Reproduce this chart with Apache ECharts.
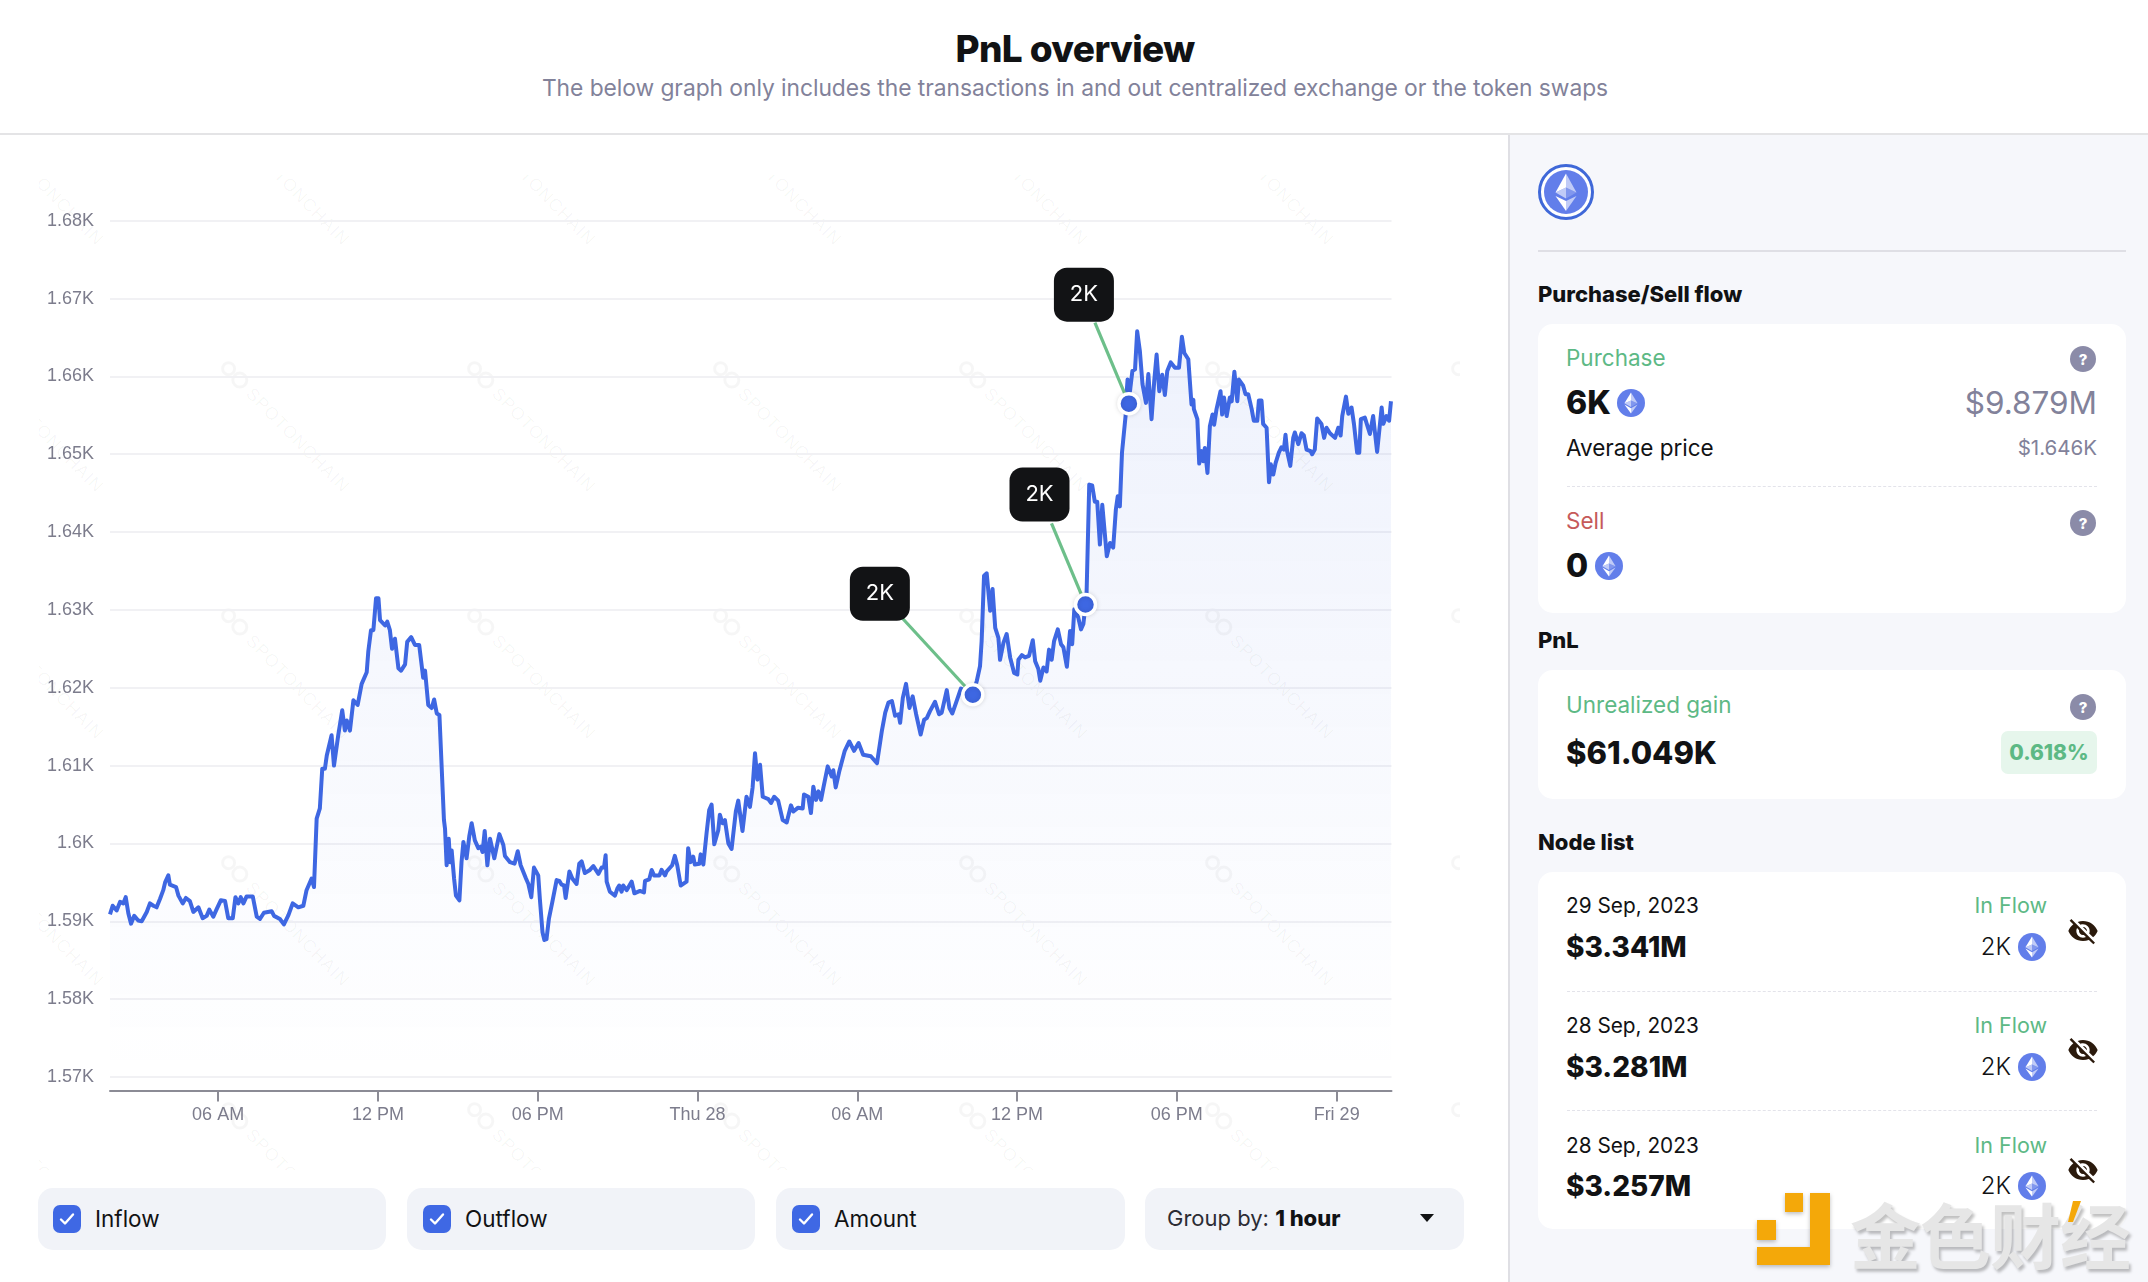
<!DOCTYPE html>
<html><head><meta charset="utf-8">
<script src="https://cdn.jsdelivr.net/npm/echarts@6/dist/echarts.min.js"></script>
<style>
html,body{margin:0;padding:0;width:2148px;height:1282px;overflow:hidden;background:#fff;font-family:Inter,"Open Sans",sans-serif;color:#111214}
.t{position:absolute;white-space:nowrap;transform:translateY(-50%);line-height:1}
.r{transform:translate(-100%,-50%)}
.c{transform:translate(-50%,-50%)}
.box{position:absolute}
.b{font-weight:800}
.grey{color:#82829a}
.green{color:#5db985}
.cb{position:absolute;width:28px;height:28px;border-radius:7px;background:#3f68e4;top:1205px}
.cb svg{position:absolute;left:0;top:0}
.ctl{position:absolute;top:1188px;height:62px;background:#f1f3f8;border-radius:15px}
.dash{position:absolute;height:0;border-top:1px dashed #e3e3ea}
svg.i{position:absolute}
#chart{position:absolute;left:0;top:0;width:1500px;height:1180px}
</style></head><body>
<svg width="0" height="0" style="position:absolute"><defs>
<symbol id="eth" viewBox="0 0 32 32"><circle cx="16" cy="16" r="16" fill="#627eea"/><path d="M16 4v9l7.5 3.4z" fill="#fff" fill-opacity=".6"/><path d="M16 4L8.5 16.4 16 13z" fill="#fff"/><path d="M16 22v6l7.5-10.4z" fill="#fff" fill-opacity=".6"/><path d="M16 28v-6l-7.5-4.4z" fill="#fff"/><path d="M16 20.6l7.5-4.2L16 13z" fill="#fff" fill-opacity=".2"/><path d="M8.5 16.4l7.5 4.2V13z" fill="#fff" fill-opacity=".6"/></symbol>
<symbol id="help" viewBox="0 0 26 26"><circle cx="13" cy="13" r="13" fill="#8b8ba8"/><text x="13" y="18.5" text-anchor="middle" font-family="Inter" font-weight="800" font-size="15" fill="#fff">?</text></symbol>
<symbol id="eye" viewBox="0 0 24 24"><path fill="#2b1a0c" d="M12 7c2.76 0 5 2.24 5 5 0 .65-.13 1.26-.36 1.83l2.92 2.92c1.51-1.26 2.7-2.89 3.43-4.75-1.73-4.39-6-7.5-11-7.5-1.4 0-2.74.25-3.98.7l2.16 2.16C10.74 7.13 11.35 7 12 7zM2 4.27l2.28 2.28.46.46C3.08 8.3 1.78 10.02 1 12c1.73 4.39 6 7.5 11 7.5 1.55 0 3.03-.3 4.38-.84l.42.42L19.73 22 21 20.73 3.27 3 2 4.27zM7.53 9.8l1.55 1.55c-.05.21-.08.43-.08.65 0 1.66 1.34 3 3 3 .22 0 .44-.03.65-.08l1.55 1.55c-.67.33-1.41.53-2.2.53-2.76 0-5-2.24-5-5 0-.79.2-1.53.53-2.2zm4.31-.78l3.15 3.15.02-.16c0-1.66-1.34-3-3-3l-.17.01z"/></symbol>
<symbol id="chk" viewBox="0 0 28 28"><path d="M8 14.5l4 4 8-9" stroke="#fff" stroke-width="2.4" fill="none" stroke-linecap="round" stroke-linejoin="round"/></symbol>
</defs></svg>

<!-- header -->
<div class="t c b" style="left:1075px;top:48px;font-size:37px;letter-spacing:-.6px;">PnL overview</div>
<div class="t c grey" style="left:1075px;top:88px;font-size:22.8px;font-weight:400;letter-spacing:-.05px">The below graph only includes the transactions in and out centralized exchange or the token swaps</div>
<div class="box" style="left:0;top:133px;width:2148px;height:2px;background:#e4e4e6"></div>

<!-- watermark -->
<svg id="wm" class="i" style="left:0;top:0" width="1500" height="1282"></svg>

<!-- right panel -->
<div class="box" style="left:1508px;top:135px;width:640px;height:1147px;background:#f6f7fb;border-left:2px solid #dfdfe4;box-sizing:border-box"></div>
<svg class="i" style="left:1538px;top:164px" width="56" height="56" viewBox="0 0 56 56"><circle cx="28" cy="28" r="26.5" fill="#fff" stroke="#3f68d8" stroke-width="3"/><circle cx="28" cy="28" r="22" fill="#627eea"/><path d="M28 9.500v14l10.500 5z" fill="#fff" fill-opacity=".6"/><path d="M28 9.500L17.500 28.500 28 23.500z" fill="#fff"/><path d="M28 37v10l10.500-15z" fill="#fff" fill-opacity=".6"/><path d="M28 47V37l-10.500-5z" fill="#fff"/><path d="M28 34.500l10.500-6L28 23.500z" fill="#fff" fill-opacity=".2"/><path d="M17.500 28.500l10.500 6v-11z" fill="#fff" fill-opacity=".6"/></svg>
<div class="box" style="left:1538px;top:250px;width:588px;height:2px;background:#dfdfe5"></div>
<div class="t b" style="left:1538px;top:294px;font-size:22px">Purchase/Sell flow</div>

<div class="box" style="left:1538px;top:324px;width:588px;height:289px;background:#fff;border-radius:15px"></div>
<div class="t green" style="left:1566px;top:358px;font-size:22.5px">Purchase</div>
<svg class="i" style="left:2070px;top:346px" width="26" height="26"><use href="#help"/></svg>
<div class="t b" style="left:1566px;top:403px;font-size:32px">6K</div>
<svg class="i" style="left:1617px;top:389px" width="28" height="28"><use href="#eth"/></svg>
<div class="t r grey" style="left:2097px;top:403px;font-size:31.5px">$9.879M</div>
<div class="t" style="left:1566px;top:448px;font-size:22.5px">Average price</div>
<div class="t r grey" style="left:2097px;top:448px;font-size:20.5px">$1.646K</div>
<div class="dash" style="left:1567px;top:486px;width:530px"></div>
<div class="t" style="left:1566px;top:521px;font-size:22.5px;color:#c65a5a">Sell</div>
<svg class="i" style="left:2070px;top:510px" width="26" height="26"><use href="#help"/></svg>
<div class="t b" style="left:1566px;top:566px;font-size:32px">0</div>
<svg class="i" style="left:1595px;top:552px" width="28" height="28"><use href="#eth"/></svg>

<div class="t b" style="left:1538px;top:640px;font-size:22px">PnL</div>
<div class="box" style="left:1538px;top:670px;width:588px;height:129px;background:#fff;border-radius:15px"></div>
<div class="t green" style="left:1566px;top:705px;font-size:22.5px">Unrealized gain</div>
<svg class="i" style="left:2070px;top:694px" width="26" height="26"><use href="#help"/></svg>
<div class="t b" style="left:1566px;top:752px;font-size:31px">$61.049K</div>
<div class="box" style="left:2001px;top:731px;width:96px;height:43px;background:#e6f6ec;border-radius:7px"></div>
<div class="t c b green" style="left:2049px;top:752px;font-size:21px">0.618%</div>

<div class="t b" style="left:1538px;top:842px;font-size:22px">Node list</div>
<div class="box" style="left:1538px;top:872px;width:588px;height:357px;background:#fff;border-radius:15px"></div>
<div id="rows"></div>

<!-- controls -->
<div class="ctl" style="left:38px;width:348px"></div>
<div class="cb" style="left:53px"><svg width="28" height="28"><use href="#chk"/></svg></div>
<div class="t" style="left:95px;top:1219px;font-size:22.5px">Inflow</div>
<div class="ctl" style="left:407px;width:348px"></div>
<div class="cb" style="left:423px"><svg width="28" height="28"><use href="#chk"/></svg></div>
<div class="t" style="left:465px;top:1219px;font-size:22.5px">Outflow</div>
<div class="ctl" style="left:776px;width:349px"></div>
<div class="cb" style="left:792px"><svg width="28" height="28"><use href="#chk"/></svg></div>
<div class="t" style="left:834px;top:1219px;font-size:22.5px">Amount</div>
<div class="ctl" style="left:1145px;width:319px"></div>
<div class="t" style="left:1167px;top:1218px;font-size:22px;color:#2c2c34">Group by: <span class="b" style="color:#111214">1 hour</span></div>
<svg class="i" style="left:1420px;top:1214px" width="14" height="9"><path d="M0 0h14L7 8z" fill="#111214"/></svg>

<div id="chart"></div>

<!-- publisher mark -->
<svg class="i" style="left:1750px;top:1188px;filter:drop-shadow(0 2px 2px rgba(0,0,0,.25))" width="90" height="84"><path fill="#f4a809" d="M60 5h20v72H7V59h53zM35 5h18v19H35zM7 32h19v20H7z"/></svg>
<div class="t" style="left:1850px;top:1232px;font-family:'Noto Sans CJK SC';font-weight:700;font-size:71px;color:#e6e6e6;text-shadow:2px 3px 3px rgba(0,0,0,.25);letter-spacing:-1px">金色财经</div>
<svg class="i" style="left:2064px;top:1200px" width="20" height="26"><path d="M9 1h8l-8 21H4z" fill="#f4a809"/></svg>

<script>
const hours = [0,.10,.25,.38,.50,.59,.69,.79,.91,1.06,1.19,1.38,1.50,1.63,1.75,1.88,2.00,2.07,2.19,2.25,2.48,2.57,2.73,2.85,3.00,3.13,3.32,3.48,3.63,3.73,3.88,4.01,4.16,4.32,4.44,4.61,4.71,4.82,4.91,5.01,5.13,5.36,5.51,5.63,5.78,6.07,6.16,6.38,6.53,6.70,6.86,7.07,7.26,7.38,7.57,7.66,7.76,7.88,7.97,8.07,8.14,8.32,8.41,8.57,8.72,8.82,8.89,9.01,9.14,9.30,9.45,9.64,9.70,9.80,9.89,9.99,10.08,10.14,10.33,10.41,10.51,10.59,10.70,10.83,10.93,11.08,11.16,11.31,11.45,11.61,11.76,11.83,11.95,12.08,12.17,12.27,12.37,12.54,12.58,12.64,
12.72,12.77,12.83,12.92,12.99,13.12,13.20,13.27,13.39,13.49,13.58,13.70,13.83,13.92,13.99,14.07,14.17,14.27,14.33,14.43,14.62,14.77,14.83,15.02,15.19,15.31,15.42,15.49,15.62,15.71,15.82,15.92,16.08,16.14,16.24,16.31,16.39,16.48,16.61,16.77,16.87,16.96,17.05,17.11,17.25,17.36,17.52,17.62,17.71,17.83,18.02,18.15,18.34,18.46,18.55,18.61,18.65,18.77,18.96,19.05,19.12,19.21,19.27,19.40,19.59,19.69,19.90,20.05,20.09,20.25,20.34,20.43,20.63,20.71,20.84,20.90,21.11,21.21,21.30,21.43,21.65,21.71,21.80,21.90,21.96,22.13,22.18,22.28,22.40,22.50,22.59,22.69,22.84,22.90,23.00,23.09,23.22,23.34,23.40,23.50,23.59,23.75,23.90,24.03,24.13,24.22,24.31,24.41,24.51,24.72,24.82,24.94,25.09,25.26,25.41,25.57,25.66,25.84,26.01,26.06,26.22,26.32,26.41,26.51,26.60,26.70,26.79,26.95,27.10,27.16,27.25,27.38,
27.59,27.76,27.94,28.11,28.28,28.57,28.80,28.98,29.11,29.23,29.36,29.48,29.61,29.67,29.77,29.89,30.02,30.14,30.27,30.44,30.57,30.67,30.79,30.98,31.13,31.23,31.42,31.52,31.63,31.77,31.95,32.40,32.55,32.67,32.73,32.82,32.92,33.05,33.14,33.24,33.36,33.42,33.55,33.67,33.80,33.95,34.07,34.11,34.24,34.36,34.51,34.65,34.74,34.86,34.93,35.05,35.17,35.26,35.36,35.45,35.59,35.71,35.80,35.93,36.05,36.13,36.21,36.36,36.46,36.55,36.63,
36.67,36.77,36.88,36.98,37.07,37.17,37.26,37.32,37.43,37.55,37.67,37.77,37.84,37.92,38.00,38.07,38.14,38.17,38.21,38.30,38.39,38.49,38.57,38.67,38.77,38.90,38.99,39.11,39.21,39.30,39.40,39.51,39.61,39.70,39.83,39.99,40.14,40.25,40.34,40.49,40.61,40.68,40.70,40.83,40.90,40.99,41.05,41.11,41.21,41.30,41.40,41.46,41.55,41.70,41.76,41.83,41.93,42.05,42.12,42.22,42.33,42.39,
42.55,42.64,42.74,42.87,42.95,43.08,43.14,43.24,43.30,43.43,43.52,43.59,43.68,43.77,43.89,43.99,44.08,44.14,44.20,44.32,44.43,44.49,44.62,44.74,44.83,44.93,45.08,45.14,45.24,45.33,45.49,45.59,45.68,45.81,46.00,46.12,46.21,46.27,46.41,46.50,46.62,46.71,46.83,46.91,46.97,47.12,47.31,47.43,47.58,47.75,47.81,47.93,48.03,48.10];
const prices = [1590.9,1592,1591.4,1592.5,1592.3,1593.1,1591,1589.7,1590.7,1590.1,1590,1591.2,1592.3,1592,1591.8,1592.9,1594,1595,1595.9,1594.7,1594.4,1593.3,1592.3,1593,1592.6,1591.2,1591.8,1590.4,1590.7,1591.5,1590.6,1591.6,1592.7,1592.6,1590.4,1590.4,1593.1,1592.3,1593.1,1592.3,1593.2,1593.2,1590.6,1590.3,1591.1,1591.3,1590.7,1590.3,1589.6,1590.8,1592.3,1591.8,1592,1594,1595.5,1594.4,1603.2,1604.5,1609.6,1609.6,1611.3,1613.9,1610,1613.9,1617.1,1614.5,1615.8,1614.5,1618.4,1617.8,1620.5,1622,1624.7,1627.4,1627.4,1631.5,1631.5,1628.7,1628,1628.5,1627.4,1625,1626.3,1622.5,1622.2,1623,1625.9,1626.5,1625.5,1625.5,1621.3,1622.2,1617.8,1617.4,1618.5,1616.7,1616.5,1603,1601.9,1597.2,
1600.6,1597.6,1599.1,1595.5,1593.3,1592.7,1597.6,1600.2,1598.1,1600.9,1602.6,1600.4,1599.4,1599.6,1598.9,1601.6,1597.2,1600.6,1600.7,1598.1,1601.2,1599.8,1598.4,1597.6,1597.4,1599,1597.2,1597.3,1595.5,1594.8,1593.1,1596.9,1595.9,1592.9,1588.6,1587.6,1587.7,1590.3,1592.5,1595.3,1595.2,1594.7,1594.6,1593,1596.4,1595.5,1594.8,1597.4,1597.7,1596.2,1596.6,1597.1,1596.1,1596.9,1596.9,1598.5,1595.1,1593.8,1593.3,1594.2,1594.6,1593.8,1594.6,1594,1595.1,1593.6,1593.9,1593.7,1595.2,1595.4,1596.6,1595.9,1595.9,1596.6,1595.9,1596.4,1597.2,1598.4,1597.2,1594.6,1595.1,1599.4,1597.6,1598.3,1597.3,1597.4,1598.6,1597.3,1601.3,1604.3,1605,1599.9,1601.7,1603.7,1602.6,1603,1600,1599.3,1599.4,1604.1,1605.5,1601.6,1606,1604.7,1607.2,1611.6,1608.2,1610.1,1606,1605.7,1605.2,1606,1605.5,1603,1602.7,1604.9,1604.1,1604.6,1604.5,1606.3,1606,1603.9,1607.3,1605.6,1606.7,1605.6,1607.2,1609.9,1608.6,1609.4,1607.2,1609.2,
1611.9,1613.1,1611.9,1612.9,1611.4,1611.2,1610.3,1614.4,1616.8,1618.1,1618.3,1616.4,1616.6,1615.5,1618.7,1620.5,1617.4,1618.9,1616.6,1614,1615.9,1616.1,1617,1618.2,1616.6,1616.8,1619.7,1617.4,1616.7,1618.1,1619.9,1619.1,1620.9,1622.8,1626,1634.4,1634.7,1629.9,1632.7,1627.7,1626.4,1623.6,1625.8,1626.9,1623.9,1621.9,1621.7,1623.6,1624.2,1623.9,1624.1,1626.1,1623.4,1622.4,1620.9,1622.6,1622.1,1624.9,1623.6,1626,1627.5,1625.6,1625.2,1622.7,1627.3,1625.6,1630.1,1629,1627.5,1628.2,1630.7,
1632.1,1646.1,1646,1643.9,1643.9,1638.4,1643.5,1643.5,1636.9,1638.6,1638,1642.9,1644.6,1643.3,1650.2,1650.4,1655.1,1657.7,1659.6,1658.1,1660.7,1660.9,1665.8,1663.3,1659,1656.6,1660.3,1654.5,1659.4,1662.8,1658.1,1660.2,1657.6,1660.7,1661.8,1661.1,1661.1,1665.1,1663,1662.2,1656.4,1657,1655.8,1654.5,1648.8,1650.4,1649.1,1650.8,1647.6,1653.6,1655.1,1653.8,1655.8,1658.1,1655.1,1657.3,1654.9,1657.3,1656.8,1660.6,1656.8,1659.6,
1658.8,1657.7,1657.7,1655.8,1654.3,1654.3,1656.9,1656.9,1653.9,1653.4,1646.4,1648.7,1647.4,1648.9,1650.2,1650.9,1650.6,1652.5,1650.4,1648.5,1652.1,1652.8,1651.3,1652.7,1652.4,1650.6,1650.4,1650,1650.6,1654.6,1653.9,1652.1,1653.4,1652.7,1652.1,1653.4,1652.4,1654.9,1657.4,1655.2,1656,1653.9,1650.2,1650.2,1654.5,1654.7,1652.6,1654.9,1650.3,1656,1653.9,1654.9,1654.3,1656.8];
const nodeHours = [32.40, 36.63, 38.26];
const nodePrices = [1619.1, 1630.7, 1656.5];
const nodeAmounts = ["2K", "2K", "2K"];
const tickHours = [4.06,10.06,16.06,22.06,28.06,34.06,40.06,46.06];
const tickLabels = ["06 AM","12 PM","06 PM","Thu 28","06 AM","12 PM","06 PM","Fri 29"];
const nodeDates = ["29 Sep, 2023","28 Sep, 2023","28 Sep, 2023"];
const nodeValues = ["$3.341M","$3.281M","$3.257M"];

const tagOffsets = [[-93,-101],[-46,-110],[-45,-109]];
const connectorOffsets = [[-70,-76],[-34,-81],[-34,-81]];
const nodeData = nodeHours.map((h,i)=>[h,nodePrices[i],nodeAmounts[i]]);

const chart = echarts.init(document.getElementById('chart'), null, {width:1500, height:1180});
chart.setOption({
  animation:false,
  backgroundColor:'transparent',
  grid:{left:110, top:220.7, width:1281.5, height:856.3, containLabel:false},
  xAxis:{
    type:'value', min:0, max:48.12, offset:13.5,
    axisLine:{show:true, onZero:false, lineStyle:{color:'#8b8b95', width:2}},
    axisTick:{show:true, length:11, customValues:tickHours, lineStyle:{color:'#8b8b95', width:2}},
    splitLine:{show:false},
    axisLabel:{show:true, customValues:tickHours, margin:15.5, color:'#7c7c8c', fontSize:18, fontFamily:'Liberation Sans',
      formatter:(v)=>tickLabels[tickHours.indexOf(+v)] ?? ''}
  },
  yAxis:{
    type:'value', min:1570, max:1680, interval:10,
    axisLine:{show:false}, axisTick:{show:false},
    splitLine:{show:true, lineStyle:{color:'#f1f1f4', width:2}},
    axisLabel:{margin:16, color:'#7c7c8c', fontSize:18, fontFamily:'Liberation Sans', formatter:v=>(v/1000)+'K'}
  },
  series:[
    {type:'line', data:hours.map((h,i)=>[h,prices[i]]), showSymbol:false, symbol:'none', smooth:false,
     lineStyle:{color:'#3e67e2', width:4, join:'round'},
     areaStyle:{color:new echarts.graphic.LinearGradient(0,0,0,1,[{offset:0,color:'rgba(62,103,226,.125)'},{offset:1,color:'rgba(62,103,226,0)'}])},
     z:2},
    {type:'custom', data:nodeData, z:4, silent:true, clip:false,
     renderItem:(params,api)=>{
       const p=api.coord([api.value(0),api.value(1)]), o=connectorOffsets[params.dataIndex];
       return {type:'line', shape:{x1:p[0]+o[0],y1:p[1]+o[1],x2:p[0],y2:p[1]}, style:{stroke:'#6dbf8a',lineWidth:3.2,fill:null}};
     }},
    {type:'scatter', data:nodeData, symbolSize:20, z:5,
     itemStyle:{opacity:1, color:'#3e67e2', borderColor:'#fff', borderWidth:3.5, shadowBlur:5, shadowColor:'rgba(0,0,0,.12)'},
     label:{show:true, opacity:1, position:'inside', formatter:p=>p.value[2], color:'#fff', fontFamily:'Inter', fontSize:22,
       backgroundColor:'#121315', borderRadius:13, width:60, height:54, lineHeight:54, align:'center', verticalAlign:'middle'},
     labelLayout:p=>({dx:tagOffsets[p.dataIndex][0], dy:tagOffsets[p.dataIndex][1]})}
  ]
});

// decorative watermark tiles behind the plot
const wm=document.getElementById('wm');
let mk='<defs><clipPath id="wc"><rect x="39" y="175" width="1421" height="995"/></clipPath></defs><g clip-path="url(#wc)">';
for(const y of [116,363,610,857,1104]) for(const x of [-23,223,469,715,961,1207,1453]){
  mk+=`<g transform="translate(${x},${y}) rotate(45.5)" fill="none" stroke="#000" stroke-opacity=".035" stroke-width="3"><circle cx="8" cy="0" r="6"/><circle cx="24" cy="0" r="7"/><text x="38" y="6.500" font-family="Liberation Sans" font-size="17.500" letter-spacing="1" fill="#000" fill-opacity=".04" stroke="none">SPOTONCHAIN</text></g>`;
}
wm.innerHTML=mk+'</g>';

// node list rows
const rowY=[[906,947,931],[1026,1067,1050],[1146,1186,1170]];
let html='';
nodeDates.forEach((d,i)=>{
  const [a,b,e]=rowY[i];
  html+=`<div class="t" style="left:1566px;top:${a}px;font-size:20.8px">${d}</div>
  <div class="t b" style="left:1566px;top:${b}px;font-size:28px">${nodeValues[i]}</div>
  <div class="t r green" style="left:2047px;top:${a}px;font-size:21.5px">In Flow</div>
  <div class="t r" style="left:2011px;top:${b}px;font-size:24px;font-weight:300">${nodeAmounts[i]}</div>
  <svg class="i" style="left:2018px;top:${b-14}px" width="28" height="28"><use href="#eth"/></svg>
  <svg class="i" style="left:2067px;top:${e-16}px" width="32" height="32"><use href="#eye"/></svg>`;
  if(i<2) html+=`<div class="dash" style="left:1567px;top:${[991,1110][i]}px;width:530px"></div>`;
});
document.getElementById('rows').innerHTML=html;
</script>
</body></html>
